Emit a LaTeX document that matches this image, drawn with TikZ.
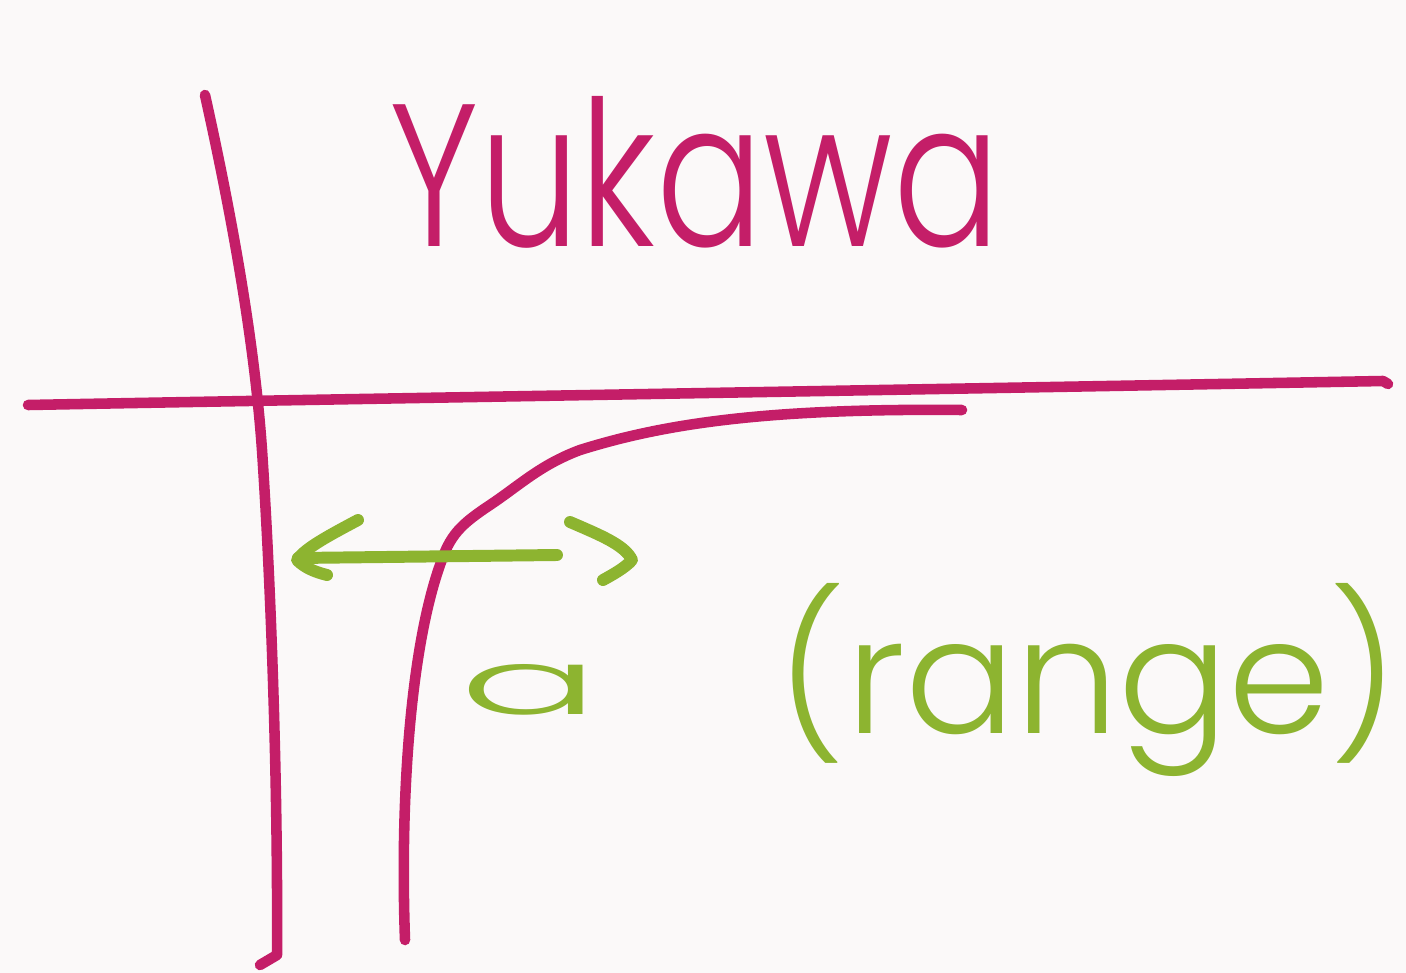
\documentclass[tikz,border=0pt]{standalone}
\usepackage{fontspec}
\newfontfamily\hand{Poppins}[UprightFont=* Light]
\definecolor{pinkline}{RGB}{196,30,104}
\definecolor{greenline}{RGB}{141,180,48}
\definecolor{paper}{RGB}{251,249,249}
\tikzset{
  pinkstroke/.style={draw=pinkline, line width=3pt, line cap=round, line join=round},
  greenstroke/.style={draw=greenline, line width=3.4pt, line cap=round, line join=round},
  pinktext/.style={text=pinkline, inner sep=0pt, font=\hand},
  greentext/.style={text=greenline, inner sep=0pt, font=\hand}
}
\begin{document}
\begin{tikzpicture}[x=0.01cm, y=-0.01cm]
\fill[paper] (0,0) rectangle (1406,973);
\useasboundingbox (0,0) rectangle (1406,973);
% title
\node[pinktext] (title) at (695,172) {\resizebox{6.1cm}{1.5cm}{Yukawa}};
% vertical axis
\draw[pinkstroke] (205,95) .. controls (235,230) and (255,350) .. (262,450)
  .. controls (272,600) and (278,800) .. (277,955) -- (260,965);
% horizontal axis
\draw[pinkstroke] (28,405) .. controls (400,398) and (900,390) .. (1383,381) -- (1388,384);
% Yukawa potential curve
\draw[pinkstroke] (405,940) .. controls (400,800) and (410,650) .. (440,565)
  .. controls (450,535) and (460,525) .. (490,505)
  .. controls (520,485) and (540,465) .. (580,450)
  .. controls (660,425) and (760,408) .. (962,410);
% range arrow
\draw[greenstroke] (298,558) -- (557,555);
\draw[greenstroke] (358,520) .. controls (330,535) and (305,548) .. (297,560) .. controls (305,568) and (315,572) .. (327,575);
\draw[greenstroke] (570,522) .. controls (600,535) and (625,545) .. (632,560) .. controls (625,568) and (612,575) .. (603,580);
% labels
\node[greentext] (a) at (530,690) {\resizebox{1.4cm}{0.5cm}{a}};
\node[greentext] (range) at (1088,680) {\resizebox{6.2cm}{1.5cm}{(range)}};
\end{tikzpicture}
\end{document}
